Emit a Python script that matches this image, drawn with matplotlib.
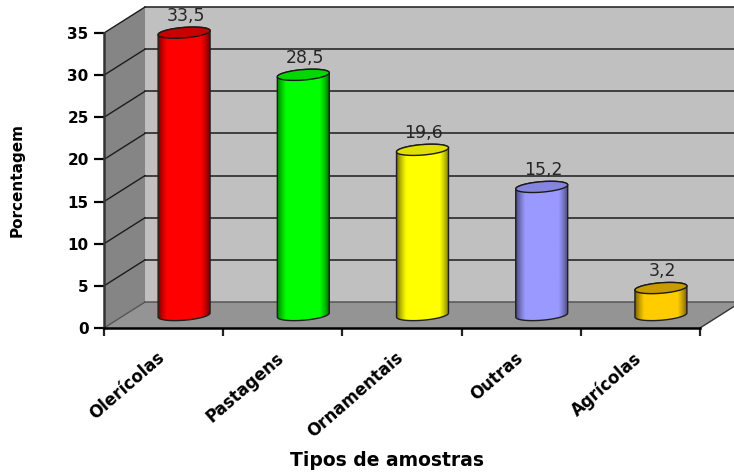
import numpy as np
import matplotlib
matplotlib.use("Agg")
import matplotlib.pyplot as plt
from matplotlib.colors import to_rgb
from matplotlib.patches import Polygon
from matplotlib.transforms import ScaledTranslation

categories = ["Olerícolas", "Pastagens", "Ornamentais", "Outras", "Agrícolas"]
values = [33.5, 28.5, 19.6, 15.2, 3.2]
value_labels = ["33,5", "28,5", "19,6", "15,2", "3,2"]
bar_colors = ["#ff0000", "#00ff00", "#ffff00", "#9999ff", "#ffcc00"]
top_colors = ["#c80000", "#00d800", "#e0e000", "#8585e0", "#c89b00"]
y_ticks = [0, 5, 10, 15, 20, 25, 30, 35]

DEPTH_X = 0.344
DEPTH_Y = 3.08
RADIUS_X = 0.218
RADIUS_Y = 0.62
TILT = 0.24

plt.rcParams["font.family"] = ["DejaVu Sans"]

fig = plt.figure(figsize=(7.34, 4.72), dpi=100)
ax = fig.add_axes([104 / 734, 1 - 328 / 472, 596 / 734, 295 / 472])
ax.patch.set_visible(False)
n = len(categories)
top = y_ticks[-1]


def wall(points, color, zorder=1):
    ax.add_patch(Polygon(points, closed=True, fc=color, ec="none", zorder=zorder, clip_on=False))


# paredes e piso
wall([(DEPTH_X, DEPTH_Y), (n + DEPTH_X, DEPTH_Y), (n + DEPTH_X, top + DEPTH_Y), (DEPTH_X, top + DEPTH_Y)], "#c0c0c0")
wall([(0, 0), (DEPTH_X, DEPTH_Y), (DEPTH_X, top + DEPTH_Y), (0, top)], "#858585")
wall([(0, 0), (n, 0), (n + DEPTH_X, DEPTH_Y), (DEPTH_X, DEPTH_Y)], "#949494")

for tick in y_ticks:
    color = "#555555" if tick == 0 else "#1c1c1c"
    ax.plot([DEPTH_X, n + DEPTH_X], [tick + DEPTH_Y] * 2, color=color, lw=1.1, zorder=2, clip_on=False)
    ax.plot([0, DEPTH_X], [tick, tick + DEPTH_Y], color=color, lw=1.0, zorder=2, clip_on=False)
ax.plot([n, n + DEPTH_X], [0, DEPTH_Y], color="#333333", lw=1.0, zorder=2, clip_on=False)

# cilindros
angle = np.linspace(0, 2 * np.pi, 121)
for i, (value, label) in enumerate(zip(values, value_labels)):
    center = i + 0.5 + DEPTH_X / 2
    base = DEPTH_Y / 2
    lower = angle[60:121]
    upper = angle[:61]
    outline = np.vstack([
        np.c_[center + RADIUS_X * np.cos(lower), base + RADIUS_Y * np.sin(lower) + TILT * np.cos(lower)],
        np.c_[center + RADIUS_X * np.cos(upper), base + value + RADIUS_Y * np.sin(upper) + TILT * np.cos(upper)],
    ])
    body = Polygon(outline, closed=True, fc="none", ec="#202020", lw=1.0, zorder=5, clip_on=False)
    ax.add_patch(body)

    # sombreado horizontal do cilindro
    u = np.linspace(0, 1, 120)
    light = np.clip(np.sin(np.pi * u) * 1.9, 0, 1)[None, :, None] ** 0.8
    rgb = np.array(to_rgb(bar_colors[i]))[None, None, :]
    shade = rgb * (0.45 + 0.55 * light)
    image = ax.imshow(
        shade,
        extent=(center - RADIUS_X, center + RADIUS_X, base - 2, base + value + 2),
        aspect="auto",
        zorder=4,
    )
    image.set_clip_path(body)

    cap = np.c_[center + RADIUS_X * np.cos(angle), base + value + RADIUS_Y * np.sin(angle) + TILT * np.cos(angle)]
    ax.add_patch(Polygon(cap, closed=True, fc=top_colors[i], ec="#1a1a1a", lw=1.0, zorder=6, clip_on=False))

    ax.annotate(label, (center, base + value), xytext=(1, 12), textcoords="offset points", ha="center",
                va="center", fontsize=12.5, color="#262626", zorder=7, annotation_clip=False)

ax.set_xlim(0, n)
ax.set_ylim(0, top)
ax.set_yticks(y_ticks)
ax.set_xticks(np.arange(n + 1))
ax.set_xticks(np.arange(n) + 0.5, categories, minor=True)
ax.tick_params(axis="x", which="major", length=6, width=1.6, labelbottom=False, color="#222222")
ax.tick_params(axis="x", which="minor", length=0, pad=15, labelsize=12)
ax.tick_params(axis="y", length=7, width=1.6, pad=4, labelsize=11)
label_shift = ScaledTranslation(-5 / 72, 0, fig.dpi_scale_trans)
for tick_label in ax.get_xticklabels(minor=True):
    tick_label.set(rotation=41, ha="right", va="top", rotation_mode="anchor", fontweight="bold")
    tick_label.set_transform(tick_label.get_transform() + label_shift)
for tick_label in ax.get_yticklabels():
    tick_label.set_fontweight("bold")

for side in ["top", "right"]:
    ax.spines[side].set_visible(False)
for side in ["left", "bottom"]:
    ax.spines[side].set_linewidth(1.8)
    ax.spines[side].set_zorder(8)
ax.spines["left"].set_color("#333333")

fig.text(387 / 734, 1 - 460 / 472, "Tipos de amostras", ha="center", va="center", fontsize=13.5, fontweight="bold")
fig.text(17 / 734, 1 - 180 / 472, "Porcentagem", rotation=90, ha="center", va="center", fontsize=11, fontweight="bold")

fig.savefig("out.png", dpi=100)
